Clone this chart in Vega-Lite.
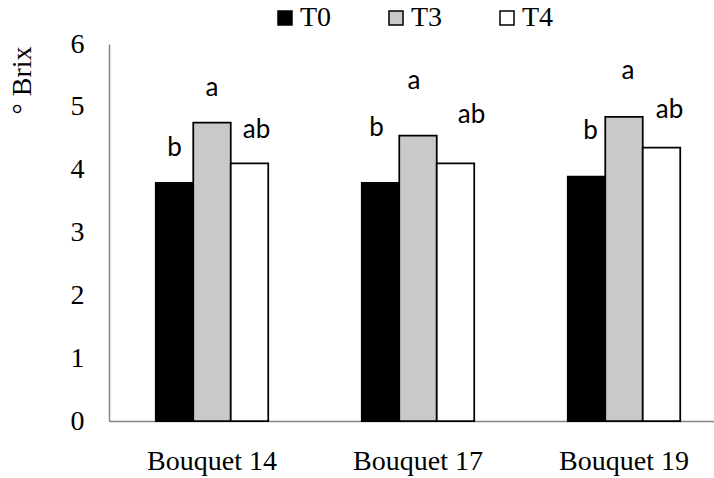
{
  "$schema": "https://vega.github.io/schema/vega-lite/v6.json",
  "width": 605,
  "height": 377,
  "autosize": {"type": "none"},
  "padding": {"left": 109, "top": 44, "right": 0, "bottom": 57},
  "background": "white",
  "config": {"view": {"stroke": null}},
  "data": {
    "values": [
      {"variety": "Bouquet 14", "treatment": "T0", "brix": 3.79, "letter": "b"},
      {"variety": "Bouquet 14", "treatment": "T3", "brix": 4.75, "letter": "a"},
      {"variety": "Bouquet 14", "treatment": "T4", "brix": 4.10, "letter": "ab"},
      {"variety": "Bouquet 17", "treatment": "T0", "brix": 3.79, "letter": "b"},
      {"variety": "Bouquet 17", "treatment": "T3", "brix": 4.54, "letter": "a"},
      {"variety": "Bouquet 17", "treatment": "T4", "brix": 4.10, "letter": "ab"},
      {"variety": "Bouquet 19", "treatment": "T0", "brix": 3.89, "letter": "b"},
      {"variety": "Bouquet 19", "treatment": "T3", "brix": 4.84, "letter": "a"},
      {"variety": "Bouquet 19", "treatment": "T4", "brix": 4.35, "letter": "ab"}
    ]
  },
  "encoding": {
    "x": {
      "field": "variety",
      "type": "nominal",
      "sort": null,
      "scale": {"range": [0, 618], "paddingInner": 0.454, "paddingOuter": 0.227},
      "axis": {
        "title": null,
        "domainColor": "#868686",
        "domainWidth": 1.5,
        "ticks": false,
        "grid": false,
        "labelAngle": 0,
        "labelFont": "Liberation Serif",
        "labelFontSize": 28,
        "labelColor": "black",
        "labelPadding": 26
      }
    },
    "xOffset": {
      "field": "treatment",
      "type": "nominal",
      "sort": ["T0", "T3", "T4"],
      "scale": {"paddingInner": 0, "paddingOuter": 0}
    },
    "y": {
      "field": "brix",
      "type": "quantitative",
      "scale": {"domain": [0, 6], "nice": false},
      "axis": {
        "title": "° Brix",
        "values": [0, 1, 2, 3, 4, 5, 6],
        "domainColor": "#868686",
        "domainWidth": 1.5,
        "ticks": false,
        "grid": false,
        "labelFont": "Liberation Serif",
        "labelFontSize": 28,
        "labelColor": "black",
        "labelPadding": 25,
        "titleFont": "Liberation Serif",
        "titleFontSize": 28,
        "titleFontWeight": "normal",
        "titleColor": "black",
        "titleAngle": -90,
        "titleX": -87,
        "titleY": 36,
        "titleAlign": "center",
        "titleBaseline": "middle"
      }
    }
  },
  "layer": [
    {
      "mark": {"type": "bar", "stroke": "black", "strokeWidth": 1.75},
      "encoding": {
        "fill": {
          "field": "treatment",
          "type": "nominal",
          "scale": {"domain": ["T0", "T3", "T4"], "range": ["#000000", "#c9c9c9", "#ffffff"]},
          "legend": {
            "orient": "none",
            "legendX": 162,
            "legendY": -40,
            "direction": "horizontal",
            "title": null,
            "symbolType": "square",
            "symbolSize": 196,
            "symbolStrokeColor": "black",
            "symbolStrokeWidth": 1.5,
            "labelFont": "Liberation Serif",
            "labelFontSize": 28,
            "labelColor": "black",
            "labelOffset": 1,
            "columnPadding": 50,
            "labelLimit": 0
          }
        }
      }
    },
    {
      "transform": [{"filter": "datum.variety == 'Bouquet 14' && datum.treatment != 'T4'"}],
      "mark": {"type": "text", "dy": -27, "font": "Lato", "fontSize": 26, "baseline": "alphabetic", "color": "black"},
      "encoding": {"text": {"field": "letter"}}
    },
    {
      "transform": [{"filter": "datum.variety == 'Bouquet 14' && datum.treatment == 'T4'"}],
      "mark": {"type": "text", "dx": 7, "dy": -25, "font": "Lato", "fontSize": 26, "baseline": "alphabetic", "color": "black"},
      "encoding": {"text": {"field": "letter"}}
    },
    {
      "transform": [{"filter": "datum.variety == 'Bouquet 17' && datum.treatment != 'T4'"}],
      "mark": {"type": "text", "dx": -4, "dy": -47, "font": "Lato", "fontSize": 26, "baseline": "alphabetic", "color": "black"},
      "encoding": {"text": {"field": "letter"}}
    },
    {
      "transform": [{"filter": "datum.variety == 'Bouquet 17' && datum.treatment == 'T4'"}],
      "mark": {"type": "text", "dx": 16, "dy": -40, "font": "Lato", "fontSize": 26, "baseline": "alphabetic", "color": "black"},
      "encoding": {"text": {"field": "letter"}}
    },
    {
      "transform": [{"filter": "datum.variety == 'Bouquet 19' && datum.treatment != 'T4'"}],
      "mark": {"type": "text", "dx": 4, "dy": -38, "font": "Lato", "fontSize": 26, "baseline": "alphabetic", "color": "black"},
      "encoding": {"text": {"field": "letter"}}
    },
    {
      "transform": [{"filter": "datum.variety == 'Bouquet 19' && datum.treatment == 'T4'"}],
      "mark": {"type": "text", "dx": 8, "dy": -30, "font": "Lato", "fontSize": 26, "baseline": "alphabetic", "color": "black"},
      "encoding": {"text": {"field": "letter"}}
    }
  ]
}
